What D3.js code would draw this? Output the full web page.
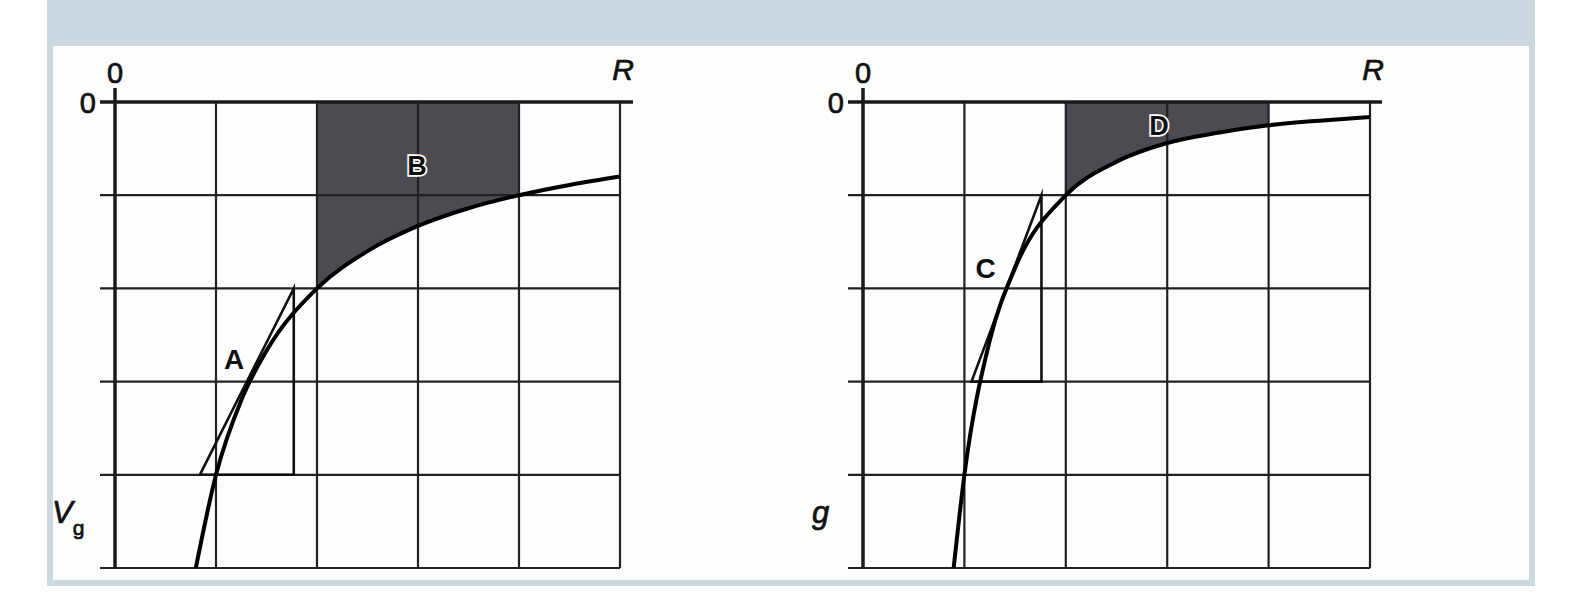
<!DOCTYPE html>
<html>
<head>
<meta charset="utf-8">
<script src="https://cdn.jsdelivr.net/npm/d3@7"></script>
<style>
  body { margin: 0; background: #fff; }
  svg { display: block; font-family: "Liberation Sans", Arial, sans-serif; }
</style>
</head>
<body>
<svg id="chart" width="1572" height="605"></svg>
<script>
// Values, in grid units (R: 0..5, field: 0..-5)
var ticks = [0, -1, -2, -3, -4, -5];
var gridR = [1, 2, 3, 4, 5];

var potR = [0.8, 1, 1.25, 1.5, 2, 2.5, 3, 3.5, 4, 4.5, 5];
var potV = [-5, -4, -3.2, -2.67, -2, -1.6, -1.33, -1.14, -1, -0.89, -0.8];

var fieldR = [0.894, 1, 1.25, 1.5, 2, 2.5, 3, 3.5, 4, 4.5, 5];
var fieldG = [-5, -4, -2.56, -1.78, -1, -0.64, -0.44, -0.33, -0.25, -0.2, -0.16];

// tangent triangles: [lower-left, top, corner]
var triA = [[0.84, -4], [1.77, -2], [1.77, -4]];
var triC = [[1.07, -3], [1.76, -1], [1.76, -3]];

var shadeFrom = 2, shadeTo = 4;

var panels = [
  { left: 115, right: 620, top: 102, bottom: 568, r: potR, v: potV, tri: triA,
    triLabel: 'A', triPos: [1.18, -2.76], shadeLabel: 'B', shadePos: [2.99, -0.69],
    yLabel: 'V', ySub: 'g', yLabelX: 52, axisEnd: 633 },
  { left: 863, right: 1370, top: 102, bottom: 568, r: fieldR, v: fieldG, tri: triC,
    triLabel: 'C', triPos: [1.21, -1.79], shadeLabel: 'D', shadePos: [2.92, -0.26],
    yLabel: 'g', ySub: null, yLabelX: 812, axisEnd: 1382 }
];

var svg = d3.select('#chart');

// frame
svg.append('rect').attr('x', 47).attr('y', 0).attr('width', 1488).attr('height', 586).attr('fill', '#cbd8e0');
svg.append('rect').attr('x', 53).attr('y', 46).attr('width', 1476).attr('height', 534).attr('fill', '#fdfdfe');

panels.forEach(function(p) {
  var x = d3.scaleLinear().domain([0, 5]).range([p.left, p.right]);
  var y = d3.scaleLinear().domain([0, -5]).range([p.top, p.bottom]);
  var g = svg.append('g');

  var pts = p.r.map(function(r, i) { return [r, p.v[i]]; });

  // Shaded region between axis and curve
  var shadePts = pts.filter(function(d) { return d[0] >= shadeFrom && d[0] <= shadeTo; });
  g.append('path')
    .datum(shadePts)
    .attr('d', d3.area().x(d => x(d[0])).y0(y(0)).y1(d => y(d[1])).curve(d3.curveMonotoneX))
    .attr('fill', '#4b4b51');

  // vertical grid
  g.selectAll('.vgrid').data(gridR).enter().append('line')
    .attr('x1', d => x(d)).attr('x2', d => x(d))
    .attr('y1', y(0)).attr('y2', y(-5))
    .attr('stroke', '#222').attr('stroke-width', 2.2);

  // horizontal grid + ticks
  g.selectAll('.hgrid').data(ticks.slice(1)).enter().append('line')
    .attr('x1', x(0) - 15).attr('x2', x(5))
    .attr('y1', d => y(d)).attr('y2', d => y(d))
    .attr('stroke', '#222').attr('stroke-width', 2.2);

  // axes
  g.append('line').attr('x1', x(0) - 15).attr('x2', p.axisEnd)
    .attr('y1', y(0)).attr('y2', y(0)).attr('stroke', '#1a1a1a').attr('stroke-width', 3.5);
  g.append('line').attr('x1', x(0)).attr('x2', x(0))
    .attr('y1', y(0) - 14).attr('y2', y(-5)).attr('stroke', '#1a1a1a').attr('stroke-width', 3.5);

  // tangent triangle
  g.append('path')
    .datum(p.tri)
    .attr('d', d => d3.line().x(q => x(q[0])).y(q => y(q[1]))(d) + 'Z')
    .attr('fill', 'none').attr('stroke', '#111').attr('stroke-width', 2.6)
    .attr('stroke-linejoin', 'miter').attr('stroke-miterlimit', 20);

  // curve
  g.append('path')
    .datum(pts)
    .attr('d', d3.line().x(d => x(d[0])).y(d => y(d[1])).curve(d3.curveMonotoneX))
    .attr('fill', 'none').attr('stroke', '#000').attr('stroke-width', 4);

  // axis text, slightly heavier like the scan
  var label = function(sel) {
    return sel.attr('fill', '#111').attr('stroke', '#111').attr('stroke-width', 0.7);
  };

  // zero labels and R
  label(g.append('text')).attr('x', x(0)).attr('y', 83).attr('text-anchor', 'middle')
    .attr('font-size', 29).text('0');
  label(g.append('text')).attr('x', x(0) - 19).attr('y', y(0) + 11).attr('text-anchor', 'end')
    .attr('font-size', 29).text('0');
  label(g.append('text')).attr('x', x(5) + 3).attr('y', 80).attr('text-anchor', 'middle')
    .attr('font-size', 30).attr('font-style', 'italic').text('R');

  // y label
  var yl = label(g.append('text')).attr('x', p.yLabelX).attr('y', 523)
    .attr('font-size', 31).attr('font-style', 'italic').text(p.yLabel);
  if (p.ySub) {
    yl.append('tspan').attr('dy', 12).attr('font-size', 21).attr('font-style', 'normal').text(p.ySub);
  }

  // triangle label
  g.append('text').attr('x', x(p.triPos[0])).attr('y', y(p.triPos[1]))
    .attr('text-anchor', 'middle').attr('dominant-baseline', 'central')
    .attr('font-size', 28).attr('font-weight', 'bold').attr('fill', '#111').text(p.triLabel);

  // shaded area label
  g.append('text').attr('x', x(p.shadePos[0])).attr('y', y(p.shadePos[1]))
    .attr('text-anchor', 'middle').attr('dominant-baseline', 'central')
    .attr('font-size', 27).attr('font-weight', 'bold')
    .attr('fill', '#111').attr('stroke', '#fff').attr('stroke-width', 3.5)
    .attr('paint-order', 'stroke').text(p.shadeLabel);
});
</script>
</body>
</html>
